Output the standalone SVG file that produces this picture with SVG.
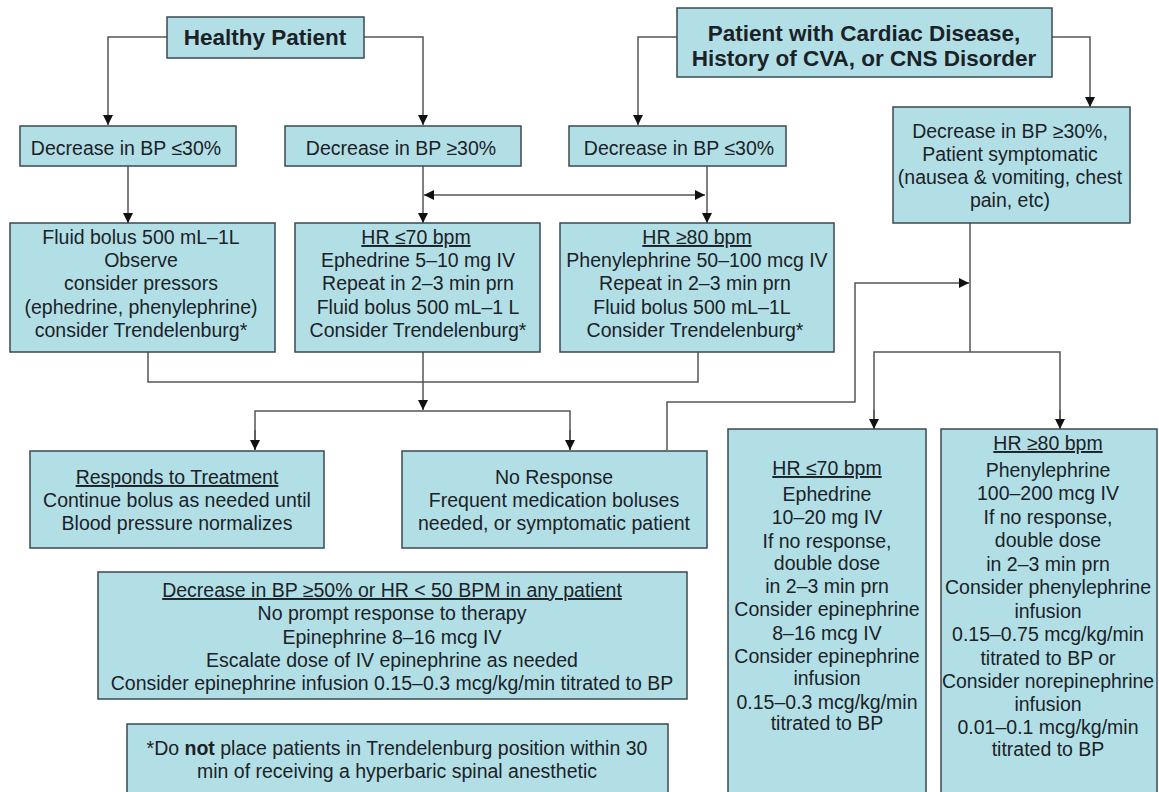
<svg xmlns="http://www.w3.org/2000/svg" width="1159" height="792" viewBox="0 0 1159 792">
<defs>
<marker id="ah" viewBox="0 0 10 10" refX="10" refY="5" markerWidth="10" markerHeight="10" markerUnits="userSpaceOnUse" orient="auto-start-reverse">
<path d="M0,0 L10,5 L0,10 Z" fill="#111"/>
</marker>
<style>
.box{fill:#b2dfe6;stroke:#3a4a50;stroke-width:1.5}
.t{font-family:"Liberation Sans",Arial,Helvetica,sans-serif;font-size:19.5px;fill:#1b2227;text-anchor:middle}
.b{font-weight:bold;font-size:22.5px}
.u{text-decoration:underline}
.c{fill:none;stroke:#555;stroke-width:1.5}
</style>
</defs>
<rect width="1159" height="792" fill="#fff"/>
<g id="connectors">
<polyline class="c" points="167,37 108,37 108,125" marker-end="url(#ah)"/>
<polyline class="c" points="364,37 423,37 423,125" marker-end="url(#ah)"/>
<polyline class="c" points="677,37 638,37 638,125" marker-end="url(#ah)"/>
<polyline class="c" points="1052,37 1090,37 1090,107" marker-end="url(#ah)"/>
<line class="c" x1="128" y1="166" x2="128" y2="223" marker-end="url(#ah)"/>
<line class="c" x1="423" y1="166" x2="423" y2="223" marker-end="url(#ah)"/>
<line class="c" x1="707" y1="166" x2="707" y2="223" marker-end="url(#ah)"/>
<line class="c" x1="424" y1="195" x2="705" y2="195" marker-start="url(#ah)" marker-end="url(#ah)"/>
<polyline class="c" points="148,352 148,382 698,382 698,352"/>
<line class="c" x1="423" y1="352" x2="423" y2="410" marker-end="url(#ah)"/>
<polyline class="c" points="255,450 255,411 570,411 570,450"/>
<line class="c" x1="255" y1="430" x2="255" y2="450" marker-end="url(#ah)"/>
<line class="c" x1="570" y1="430" x2="570" y2="450" marker-end="url(#ah)"/>
<polyline class="c" points="667,450 667,402 855,402 855,283 969,283" marker-end="url(#ah)"/>
<line class="c" x1="970" y1="223" x2="970" y2="352"/>
<polyline class="c" points="874,429 874,352 1060,352 1060,429"/>
<line class="c" x1="874" y1="410" x2="874" y2="429" marker-end="url(#ah)"/>
<line class="c" x1="1060" y1="410" x2="1060" y2="429" marker-end="url(#ah)"/>
</g>
<g id="healthy">
<rect class="box" x="167" y="17" width="197" height="41"/>
<text class="t b" x="265" y="45">Healthy Patient</text>
</g>
<g id="cardiac">
<rect class="box" x="677" y="8" width="375" height="69"/>
<text class="t b" x="864" y="41">Patient with Cardiac Disease,</text>
<text class="t b" x="864" y="66">History of CVA, or CNS Disorder</text>
</g>
<g id="bp1">
<rect class="box" x="20" y="126" width="216" height="40"/>
<text class="t" x="126" y="155">Decrease in BP ≤30%</text>
</g>
<g id="bp2">
<rect class="box" x="285" y="126" width="236" height="40"/>
<text class="t" x="401" y="155">Decrease in BP ≥30%</text>
</g>
<g id="bp3">
<rect class="box" x="569" y="126" width="217" height="40"/>
<text class="t" x="679" y="155">Decrease in BP ≤30%</text>
</g>
<g id="bp4">
<rect class="box" x="893" y="107" width="237" height="116"/>
<text class="t" x="1010" y="138">Decrease in BP ≥30%,</text>
<text class="t" x="1010" y="161">Patient symptomatic</text>
<text class="t" x="1010" y="184">(nausea &amp; vomiting, chest</text>
<text class="t" x="1010" y="207">pain, etc)</text>
</g>
<g id="fluid">
<rect class="box" x="10" y="223" width="265" height="129"/>
<text class="t" x="141" y="244">Fluid bolus 500 mL–1L</text>
<text class="t" x="141" y="267">Observe</text>
<text class="t" x="141" y="290">consider pressors</text>
<text class="t" x="141" y="313.5">(ephedrine, phenylephrine)</text>
<text class="t" x="141" y="337">consider Trendelenburg*</text>
</g>
<g id="hr70a">
<rect class="box" x="295" y="223" width="245" height="129"/>
<text class="t u" x="416" y="244">HR ≤70 bpm</text>
<text class="t" x="418" y="267">Ephedrine 5–10 mg IV</text>
<text class="t" x="418" y="290">Repeat in 2–3 min prn</text>
<text class="t" x="418" y="313.5">Fluid bolus 500 mL–1 L</text>
<text class="t" x="418" y="337">Consider Trendelenburg*</text>
</g>
<g id="hr80a">
<rect class="box" x="560" y="223" width="274" height="129"/>
<text class="t u" x="697" y="244">HR ≥80 bpm</text>
<text class="t" x="697" y="267">Phenylephrine 50–100 mcg IV</text>
<text class="t" x="695" y="290">Repeat in 2–3 min prn</text>
<text class="t" x="692" y="313.5">Fluid bolus 500 mL–1L</text>
<text class="t" x="695" y="337">Consider Trendelenburg*</text>
</g>
<g id="responds">
<rect class="box" x="30" y="451" width="294" height="97"/>
<text class="t u" x="177" y="484">Responds to Treatment</text>
<text class="t" x="177" y="507">Continue bolus as needed until</text>
<text class="t" x="177" y="530">Blood pressure normalizes</text>
</g>
<g id="noresponse">
<rect class="box" x="402" y="451" width="305" height="97"/>
<text class="t" x="554" y="484">No Response</text>
<text class="t" x="554" y="507">Frequent medication boluses</text>
<text class="t" x="554" y="530">needed, or symptomatic patient</text>
</g>
<g id="severe">
<rect class="box" x="98" y="572" width="589" height="127"/>
<text class="t u" x="392" y="597">Decrease in BP ≥50% or HR &lt; 50 BPM in any patient</text>
<text class="t" x="392" y="620">No prompt response to therapy</text>
<text class="t" x="392" y="644">Epinephrine 8–16 mcg IV</text>
<text class="t" x="392" y="667">Escalate dose of IV epinephrine as needed</text>
<text class="t" x="392" y="690">Consider epinephrine infusion 0.15–0.3 mcg/kg/min titrated to BP</text>
</g>
<g id="footnote">
<rect class="box" x="127" y="724" width="541" height="75"/>
<text class="t" x="397" y="755">*Do <tspan font-weight="bold">not</tspan> place patients in Trendelenburg position within 30</text>
<text class="t" x="397" y="778">min of receiving a hyperbaric spinal anesthetic</text>
</g>
<g id="hr70b">
<rect class="box" x="728" y="429" width="198" height="370"/>
<text class="t u" x="827" y="475">HR ≤70 bpm</text>
<text class="t" x="827" y="501">Ephedrine</text>
<text class="t" x="827" y="524">10–20 mg IV</text>
<text class="t" x="827" y="547.5">If no response,</text>
<text class="t" x="827" y="570">double dose</text>
<text class="t" x="827" y="593">in 2–3 min prn</text>
<text class="t" x="827" y="616">Consider epinephrine</text>
<text class="t" x="827" y="639.5">8–16 mcg IV</text>
<text class="t" x="827" y="663">Consider epinephrine</text>
<text class="t" x="827" y="685">infusion</text>
<text class="t" x="827" y="708.5">0.15–0.3 mcg/kg/min</text>
<text class="t" x="827" y="730">titrated to BP</text>
</g>
<g id="hr80b">
<rect class="box" x="941" y="429" width="216" height="370"/>
<text class="t u" x="1048" y="450">HR ≥80 bpm</text>
<text class="t" x="1048" y="477">Phenylephrine</text>
<text class="t" x="1048" y="500">100–200 mcg IV</text>
<text class="t" x="1048" y="523.5">If no response,</text>
<text class="t" x="1048" y="547">double dose</text>
<text class="t" x="1048" y="571">in 2–3 min prn</text>
<text class="t" x="1048" y="594">Consider phenylephrine</text>
<text class="t" x="1048" y="617.5">infusion</text>
<text class="t" x="1048" y="641">0.15–0.75 mcg/kg/min</text>
<text class="t" x="1048" y="665">titrated to BP or</text>
<text class="t" x="1048" y="687.5" textLength="212" lengthAdjust="spacingAndGlyphs">Consider norepinephrine</text>
<text class="t" x="1048" y="711">infusion</text>
<text class="t" x="1048" y="733.5">0.01–0.1 mcg/kg/min</text>
<text class="t" x="1048" y="756">titrated to BP</text>
</g>
</svg>
